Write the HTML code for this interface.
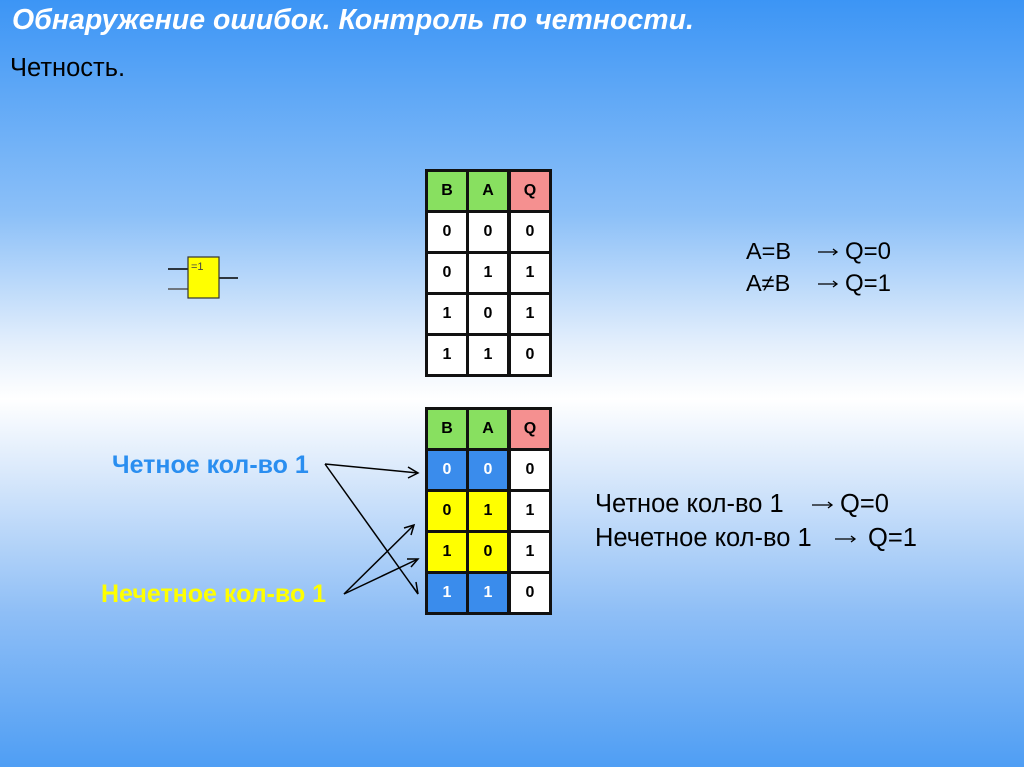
<!DOCTYPE html>
<html><head><meta charset="utf-8"><style>
body{margin:0;width:1024px;height:767px;overflow:hidden;position:relative;font-family:"Liberation Sans",sans-serif;
background:linear-gradient(to bottom,#3c95f5 0%,#8cc0f8 28%,#e4effc 45%,#ffffff 52%,#d8e8fb 62%,#8ebef6 80%,#4f9ef4 100%);}
.t{position:absolute;white-space:nowrap;line-height:1}
table{position:absolute;border-collapse:collapse;left:425px;}
td{width:38px;height:38px;border:3px solid #111;text-align:center;font-weight:bold;font-size:16px;padding:0;background:#fff;color:#000}
td.q{border-left:4px solid #111}
.g{background:#88e060}.r{background:#f59090}.b{background:#3a8cec;color:#fff}.y{background:#ffff00}
.k{color:#000}
</style></head><body>
<div class="t" style="left:12px;top:6px;font-size:28.5px;font-weight:bold;font-style:italic;color:#fff">Обнаружение ошибок. Контроль по четности.</div>
<div class="t" style="left:10px;top:56px;font-size:25.5px;color:#000">Четность.</div>

<svg width="1024" height="767" style="position:absolute;left:0;top:0">
<line x1="168" y1="269" x2="188" y2="269" stroke="#000" stroke-width="1.5"/>
<line x1="168" y1="289" x2="188" y2="289" stroke="#555" stroke-width="1.5"/>
<line x1="219" y1="278" x2="238" y2="278" stroke="#000" stroke-width="1.5"/>
<rect x="188" y="257" width="31" height="41" fill="#ffff00" stroke="#333" stroke-width="1.2"/>
<text x="191" y="270" font-family="Liberation Sans" font-size="11" fill="#444">=1</text>
<g stroke="#000" stroke-width="1.5" fill="none">
<line x1="325" y1="464" x2="418" y2="473"/><polyline points="408,467 418,473 408,478"/>
<line x1="325" y1="464" x2="418" y2="594"/><polyline points="411,584 418,594 416,582"/>
<line x1="344" y1="594" x2="414" y2="525"/><polyline points="404,528 414,525 411,535"/>
<line x1="344" y1="594" x2="418" y2="559"/><polyline points="407,559 418,559 411,567"/>
</g>
<g stroke="#000" stroke-width="1.3" fill="none">
<line x1="818" y1="252" x2="837" y2="252"/><polyline points="833,249 837,252 833,255"/>
<line x1="818" y1="284" x2="837" y2="284"/><polyline points="833,281 837,284 833,287"/>
<line x1="812" y1="505" x2="832" y2="505"/><polyline points="828,502 832,505 828,508"/>
<line x1="835" y1="539" x2="855" y2="539"/><polyline points="851,536 855,539 851,542"/>
</g>
</svg>

<table style="top:169px">
<tr><td class="g">B</td><td class="g">A</td><td class="q r">Q</td></tr>
<tr><td>0</td><td>0</td><td class="q">0</td></tr>
<tr><td>0</td><td>1</td><td class="q">1</td></tr>
<tr><td>1</td><td>0</td><td class="q">1</td></tr>
<tr><td>1</td><td>1</td><td class="q">0</td></tr>
</table>
<table style="top:407px">
<tr><td class="g">B</td><td class="g">A</td><td class="q r">Q</td></tr>
<tr><td class="b">0</td><td class="b">0</td><td class="q">0</td></tr>
<tr><td class="y">0</td><td class="y">1</td><td class="q">1</td></tr>
<tr><td class="y">1</td><td class="y">0</td><td class="q">1</td></tr>
<tr><td class="b">1</td><td class="b">1</td><td class="q">0</td></tr>
</table>

<div class="t k" style="left:746px;top:240px;font-size:23.5px">A=B</div>
<div class="t k" style="left:845px;top:240px;font-size:24px">Q=0</div>
<div class="t k" style="left:746px;top:272px;font-size:23.5px">A≠B</div>
<div class="t k" style="left:845px;top:272px;font-size:24px">Q=1</div>

<div class="t k" style="left:595px;top:492px;font-size:25.5px">Четное кол-во 1</div>
<div class="t k" style="left:840px;top:492px;font-size:25.5px">Q=0</div>
<div class="t k" style="left:595px;top:526px;font-size:25.5px">Нечетное кол-во 1</div>
<div class="t k" style="left:868px;top:526px;font-size:25.5px">Q=1</div>

<div class="t" style="left:112px;top:453px;font-size:25px;font-weight:bold;color:#2a8ef0">Четное кол-во 1</div>
<div class="t" style="left:101px;top:582px;font-size:25px;font-weight:bold;color:#ffff00">Нечетное кол-во 1</div>
</body></html>
